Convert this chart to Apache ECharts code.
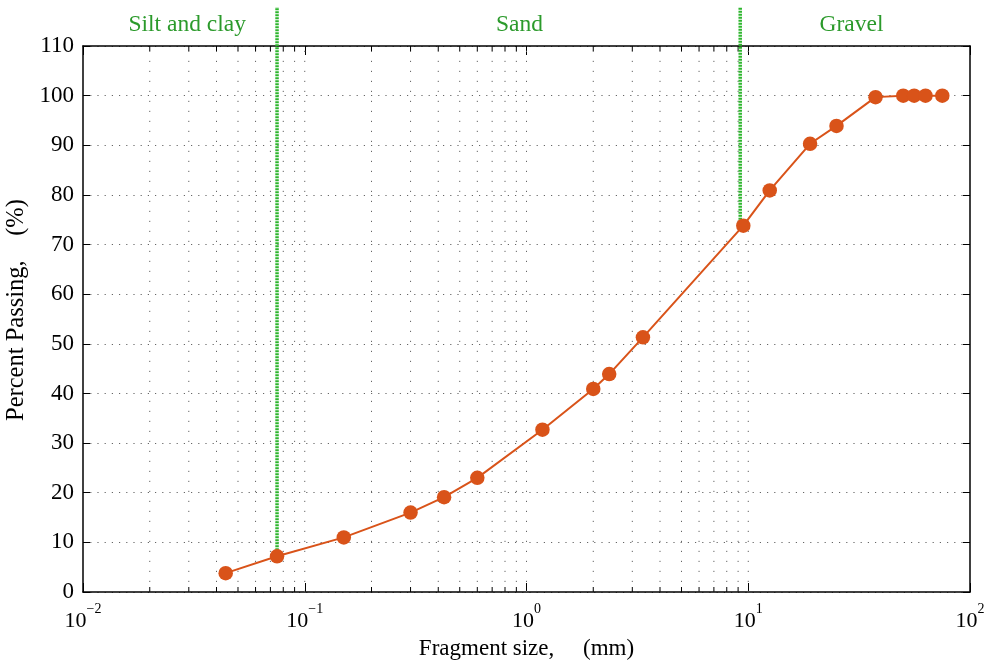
<!DOCTYPE html>
<html>
<head>
<meta charset="utf-8">
<script src="https://cdn.jsdelivr.net/npm/echarts@6/dist/echarts.min.js"></script>
<style>html,body{margin:0;padding:0;background:#fff}#c{width:984px;height:662px}</style>
</head>
<body>
<div id="c"></div>
<script>
// Sieve sizes (mm) and percent passing
const sizes   = [0.044, 0.075, 0.15, 0.3, 0.425, 0.6, 1.18, 2.0, 2.36, 3.35, 9.5, 12.5, 19, 25, 37.5, 50, 56, 63, 75];
const passing = [3.8, 7.2, 11.0, 16.0, 19.1, 23.0, 32.7, 40.9, 43.9, 51.3, 73.8, 80.9, 90.3, 93.9, 99.7, 100, 100, 100, 100];
// Minor grid / tick positions on the log x axis
const gridX = [0.02,0.03,0.04,0.05,0.06,0.07,0.08,0.09,0.1,
               0.2,0.3,0.4,0.5,0.6,0.7,0.8,0.9,1,
               2,3,4,5,6,7,8,9,10];
const yTicks = [0,10,20,30,40,50,60,70,80,90,100,110];
// Soil class boundaries (size, passing where boundary line starts)
const boundarySizes = [0.075, 9.2];
const boundaryFrom  = [7.2, 73.8];
// Region labels
const regionNames   = ['Silt and clay', 'Sand', 'Gravel'];
const regionCenters = [0.0295, 0.93, 29.2];

const FONT = "'Liberation Serif','Times New Roman',serif";
const GREEN_TEXT = '#2b9a2b';
const GREEN_LINE = '#2db52d';
const ORANGE = '#d95319';

const chart = echarts.init(document.getElementById('c'), null, {renderer: 'canvas'});

const supFmt = v => {
  const e = Math.round(Math.log10(v));
  return '{b|10}{s|' + (e < 0 ? '\u2212' + (-e) : e) + '}';
};

const option = {
  animation: false,
  backgroundColor: '#fff',
  grid: {left: 83, right: 14, top: 46, bottom: 70, containLabel: false, outerBoundsMode: 'none'},
  xAxis: [{
    type: 'log', logBase: 10, min: 0.01, max: 100,
    name: 'Fragment size,     (mm)', nameLocation: 'middle', nameGap: 45,
    nameTextStyle: {fontFamily: FONT, fontSize: 23, color: '#000'},
    axisLine: {show: true, onZero: false, lineStyle: {color: '#000', width: 1.5}},
    axisTick: {show: true, inside: true, length: 9, lineStyle: {color: '#000', width: 1}},
    minorTick: {show: false},
    splitLine: {show: false},
    axisLabel: {
      margin: 10, formatter: supFmt,
      rich: {
        b: {fontFamily: FONT, fontSize: 22, color: '#000', lineHeight: 30, verticalAlign: 'bottom'},
        s: {fontFamily: FONT, fontSize: 14, color: '#000', lineHeight: 10, verticalAlign: 'top'}
      }
    }
  }, {
    type: 'log', logBase: 10, min: 0.01, max: 100, position: 'top',
    axisLine: {show: true, onZero: false, lineStyle: {color: '#000', width: 1.5}},
    axisTick: {show: true, inside: true, length: 9, lineStyle: {color: '#000', width: 1}},
    axisLabel: {show: false}, splitLine: {show: false}
  }],
  yAxis: [{
    type: 'value', min: 0, max: 110, interval: 10,
    name: 'Percent Passing,    (%)', nameLocation: 'middle', nameGap: 49,
    nameTextStyle: {fontFamily: FONT, fontSize: 24.5, color: '#000', padding: [0, 0, 0, 18]},
    axisLine: {show: true, onZero: false, lineStyle: {color: '#000', width: 1.5}},
    axisTick: {show: true, inside: true, length: 7, lineStyle: {color: '#000', width: 1}},
    splitLine: {show: true, lineStyle: {color: '#666', width: 1, type: [1.2, 6]}},
    axisLabel: {margin: 9, fontFamily: FONT, fontSize: 23, color: '#000',
      formatter: v => yTicks.indexOf(v) >= 0 ? String(v) : ''}
  }, {
    type: 'value', min: 0, max: 110, interval: 10, position: 'right',
    axisLine: {show: true, onZero: false, lineStyle: {color: '#000', width: 1.5}},
    axisTick: {show: true, inside: true, length: 7, lineStyle: {color: '#000', width: 1}},
    axisLabel: {show: false}, splitLine: {show: false}
  }],
  series: [
    {
      // dotted vertical grid and minor ticks
      type: 'custom', z: 1, silent: true,
      data: gridX.map(v => [v]),
      renderItem: (params, api) => {
        const x = api.value(0);
        const p0 = api.coord([x, 0]);
        const p1 = api.coord([x, 110]);
        const isDecade = Math.abs(Math.log10(x) - Math.round(Math.log10(x))) < 1e-6;
        const children = [{
          type: 'line', shape: {x1: p0[0], y1: p0[1], x2: p1[0], y2: p1[1]},
          style: {stroke: '#666', lineWidth: 1, lineDash: [1.2, 8.8]}
        }];
        if (!isDecade) {
          children.push({type: 'line', shape: {x1: p0[0], y1: p0[1], x2: p0[0], y2: p0[1] - 5},
            style: {stroke: '#000', lineWidth: 1}});
          children.push({type: 'line', shape: {x1: p1[0], y1: p1[1], x2: p1[0], y2: p1[1] + 5},
            style: {stroke: '#000', lineWidth: 1}});
        }
        return {type: 'group', children};
      }
    },
    {
      // soil class boundaries
      type: 'custom', z: 3, silent: true, clip: false,
      data: boundarySizes.map((s, i) => [s, boundaryFrom[i]]),
      renderItem: (params, api) => {
        const p = api.coord([api.value(0), api.value(1)]);
        const top = api.coord([api.value(0), 110]);
        return {
          type: 'line', shape: {x1: p[0], y1: p[1], x2: p[0], y2: top[1] - 39},
          style: {stroke: GREEN_LINE, lineWidth: 3.5, lineDash: [2, 1]}
        };
      }
    },
    {
      // region labels
      type: 'custom', z: 4, silent: true, clip: false,
      data: regionCenters.map((c, i) => [c, i]),
      renderItem: (params, api) => {
        const p = api.coord([api.value(0), 110]);
        return {
          type: 'text', x: p[0], y: p[1] - 21,
          style: {text: regionNames[api.value(1)], fill: GREEN_TEXT, font: '23.5px ' + FONT,
            textAlign: 'center', textVerticalAlign: 'middle'}
        };
      }
    },
    {
      type: 'line', z: 5,
      data: sizes.map((s, i) => [s, passing[i]]),
      symbol: 'circle', symbolSize: 14.5,
      itemStyle: {color: ORANGE},
      lineStyle: {color: ORANGE, width: 2},
      emphasis: {disabled: true}
    }
  ]
};
chart.setOption(option);
</script>
</body>
</html>
